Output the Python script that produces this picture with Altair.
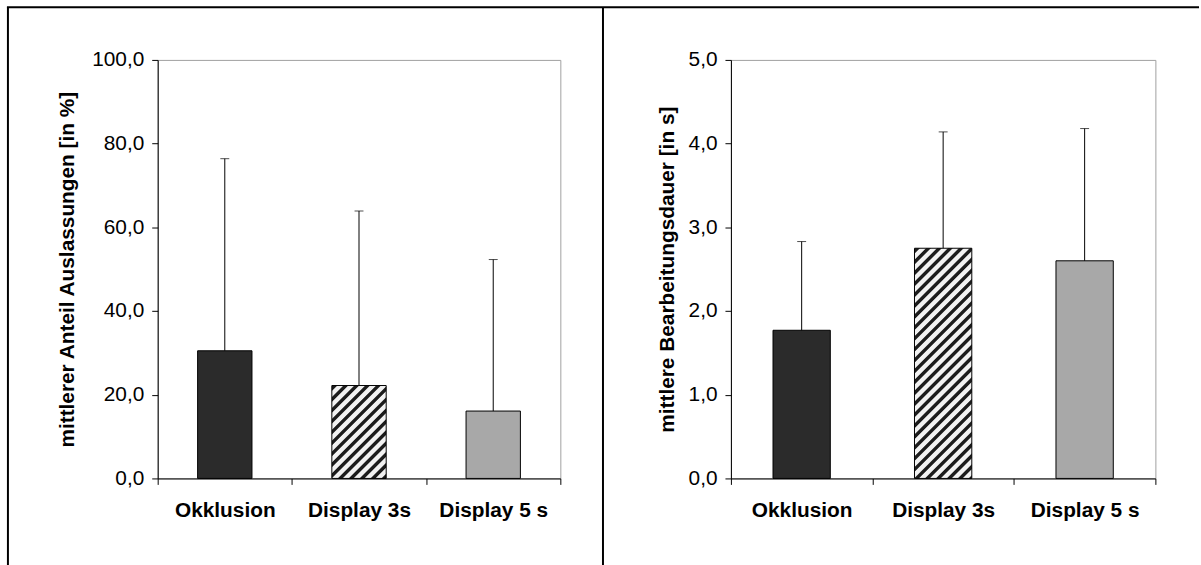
import altair as alt
import pandas as pd

# ---- data ----
categories = ["Okklusion", "Display 3s", "Display 5 s"]
omissions_mean = [30.5, 22.2, 16.1]
omissions_upper = [76.4, 63.9, 52.3]
duration_mean = [1.77, 2.75, 2.60]
duration_upper = [2.83, 4.14, 4.18]
left_ticks = [0, 20, 40, 60, 80, 100]
right_ticks = [0, 1, 2, 3, 4, 5]
left_title = "mittlerer Anteil Auslassungen [in %]"
right_title = "mittlere Bearbeitungsdauer [in s]"

# ---- styling ----
PLOT_H = 422
LEFT_W = 406
RIGHT_W = 428
BAR_FRAC = 0.405
FONT = "Liberation Sans"
FS = 21


def stripes(w, h, period=11.0, dark="#1c1c1c", light="#f2f2f2"):
    """Diagonal '////' hatch built from a linear gradient (bounding-box units)."""
    s = w + h
    step = period / s
    stops = []
    k = 0
    while k * step < 1:
        base = k * step
        for frac, col in [(0.0, light), (0.12, dark), (0.44, dark), (0.56, light)]:
            o = base + frac * step
            if o <= 1:
                stops.append(alt.GradientStop(offset=round(o, 5), color=col))
        k += 1
    denom = w * w + h * h
    return alt.LinearGradient(
        gradient="linear", stops=stops,
        x1=0, y1=0, x2=w * s / denom, y2=h * s / denom,
    )


def panel(means, uppers, ticks, title, width, frame_layers, title_pad):
    df = pd.DataFrame({"cat": categories, "mean": means, "upper": uppers})
    ymax = ticks[-1]
    xscale = alt.Scale(domain=categories, paddingInner=0, paddingOuter=0)
    x = alt.X(
        "cat:N", sort=categories, scale=xscale,
        axis=alt.Axis(
            title=None, labelAngle=0, labelFontWeight="bold", labelFontSize=FS,
            labelColor="black", labelPadding=15, tickBand="extent", tickSize=6,
            tickColor="black", domainColor="black", labelFont=FONT,
        ),
    )
    y = alt.Y(
        "mean:Q",
        scale=alt.Scale(domain=[0, ymax], nice=False, zero=True),
        axis=alt.Axis(
            values=ticks, title=title, grid=False,
            labelExpr="replace(format(datum.value, '.1f'), '.', ',')",
            labelFontSize=FS, labelColor="black", labelPadding=8, labelFont=FONT,
            tickSize=6, tickColor="black", domainColor="black",
            titleFontSize=FS, titleFontWeight="bold", titleColor="black",
            titlePadding=title_pad, titleFont=FONT,
        ),
    )
    base = alt.Chart(df)
    band = width / 3
    bar_w = BAR_FRAC * band
    h_mid = means[1] / ymax * PLOT_H
    fills = ["#2b2b2b", stripes(bar_w, h_mid), "#a8a8a8"]
    layers = []
    for cat, fill in zip(categories, fills):
        layers.append(
            base.transform_filter(alt.datum.cat == cat)
            .mark_bar(fill=fill, stroke="black", strokeWidth=1,
                      width=alt.RelativeBandSize(BAR_FRAC))
            .encode(x=x, y=y)
        )
    err = base.mark_rule(color="black", strokeWidth=1).encode(
        x=alt.X("cat:N", sort=categories), y="mean:Q", y2="upper:Q"
    )
    cap = base.mark_tick(color="black", size=9, thickness=1, orient="horizontal").encode(
        x=alt.X("cat:N", sort=categories), y="upper:Q"
    )
    return alt.layer(*layers, err, cap, *frame_layers).properties(
        width=width, height=PLOT_H
    )


one = alt.Chart(pd.DataFrame({"k": [0]}))
outer_left = one.mark_rule(color="black", strokeWidth=2).encode(
    x=alt.value(-151), y=alt.value(-53), y2=alt.value(520)
)
outer_top = one.mark_rule(color="black", strokeWidth=2).encode(
    x=alt.value(-152), x2=alt.value(1050), y=alt.value(-53)
)
divider = one.mark_rule(color="black", strokeWidth=2).encode(
    x=alt.value(449), y=alt.value(-53), y2=alt.value(520)
)

left = panel(omissions_mean, omissions_upper, left_ticks, left_title, LEFT_W,
             [outer_left, outer_top, divider], 14)
right = panel(duration_mean, duration_upper, right_ticks, right_title, RIGHT_W, [], 11)

chart = (
    alt.hconcat(left, right, spacing=172, bounds="flush")
    .resolve_scale(x="independent", y="independent")
    .configure(font=FONT, padding={"left": 5, "top": 3, "right": 0, "bottom": 0})
    .configure_view(stroke="#a0a0a0", strokeWidth=1)
    .configure_concat(spacing=172)
)

chart.save("out.html", embed_options={"renderer": "svg", "actions": False})
